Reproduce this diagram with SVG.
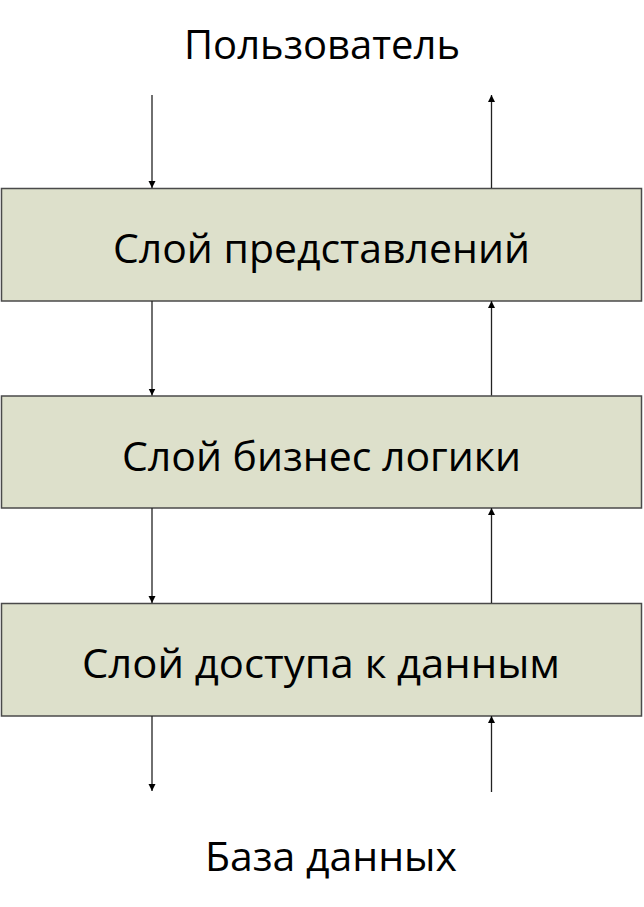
<svg xmlns="http://www.w3.org/2000/svg" width="644" height="907" viewBox="0 0 644 907">
<style>
.box{fill:#dde0cb;stroke:#4a4a4a;stroke-width:1.5}
.t{font-family:"Open Sans","Noto Sans","DejaVu Sans",sans-serif;font-size:40px;fill:#000;text-anchor:middle}
.c{stroke:#222;stroke-width:1.3;fill:none;marker-end:url(#ah)}
</style>
<defs>
<marker id="ah" markerWidth="8" markerHeight="8" refX="7" refY="3.5" orient="auto" markerUnits="userSpaceOnUse">
<path d="M0,0 L7,3.5 L0,7 Z" fill="#000"/>
</marker>
</defs>
<g id="user"><text class="t" x="322" y="59" textLength="276" lengthAdjust="spacingAndGlyphs">Пользователь</text></g>
<g id="presentation"><rect class="box" x="1.5" y="188.5" width="640" height="112.5"/><text class="t" x="321.5" y="263" textLength="417" lengthAdjust="spacingAndGlyphs">Слой представлений</text></g>
<g id="business"><rect class="box" x="1.5" y="396" width="640" height="112"/><text class="t" x="321.5" y="471" textLength="399" lengthAdjust="spacingAndGlyphs">Слой бизнес логики</text></g>
<g id="data"><rect class="box" x="1.5" y="603.5" width="640" height="112.5"/><text class="t" x="321" y="678" textLength="478" lengthAdjust="spacingAndGlyphs">Слой доступа к данным</text></g>
<g id="db"><text class="t" x="331" y="871" textLength="252" lengthAdjust="spacingAndGlyphs">База данных</text></g>
<g id="connectors">
<line class="c" x1="152" y1="95" x2="152" y2="188"/>
<line class="c" x1="491.5" y1="188" x2="491.5" y2="95"/>
<line class="c" x1="152" y1="301" x2="152" y2="395.5"/>
<line class="c" x1="491.5" y1="395.5" x2="491.5" y2="301"/>
<line class="c" x1="152" y1="508" x2="152" y2="603"/>
<line class="c" x1="491.5" y1="603" x2="491.5" y2="508"/>
<line class="c" x1="152" y1="716" x2="152" y2="791"/>
<line class="c" x1="491.5" y1="792" x2="491.5" y2="716"/>
</g>
</svg>
